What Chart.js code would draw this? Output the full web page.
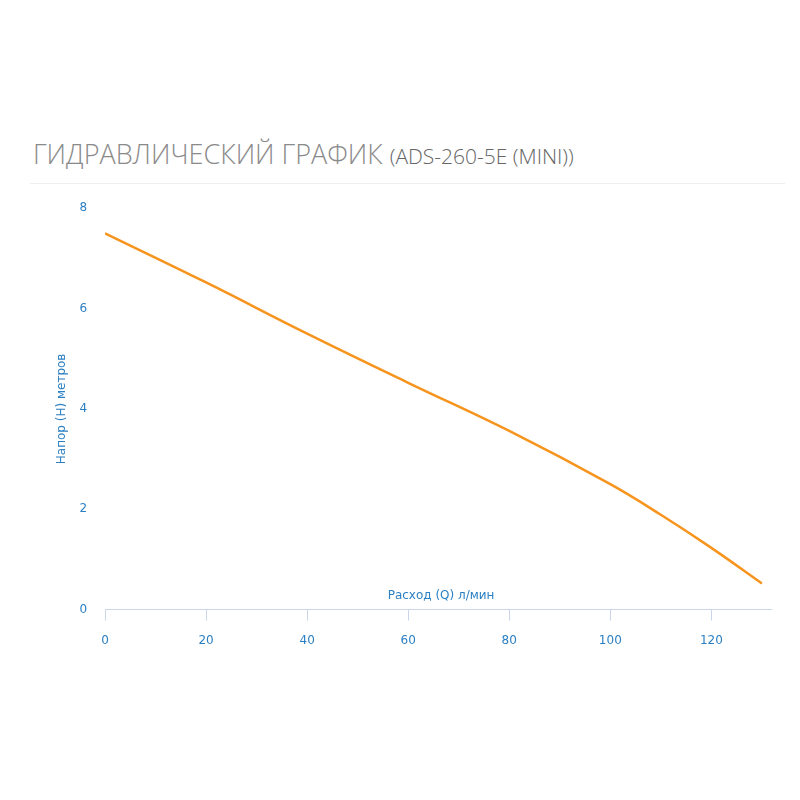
<!DOCTYPE html>
<html>
<head>
<meta charset="utf-8">
<script src="https://cdn.jsdelivr.net/npm/chart.js@4"></script>
<style>
  body { margin: 0; background: #fff; }
  .title {
    position: absolute; left: 33px; top: 135px;
    font-family: "Open Sans", sans-serif; font-weight: 300;
    font-size: 27px; color: #8a8a8a; white-space: nowrap;
  }
  .title small { font-size: 21px; color: #666; }
  .rule { position: absolute; left: 30px; top: 183px; width: 755px; border-top: 1px solid #eee; }
  .wrap { position: absolute; left: 55px; top: 191px; width: 717px; height: 470px; }
</style>
</head>
<body>
<div class="title">ГИДРАВЛИЧЕСКИЙ ГРАФИК <small>(ADS-260-5E (MINI))</small></div>
<div class="rule"></div>
<div class="wrap"><canvas id="chart"></canvas></div>
<script>
// расход, л/мин
var flow = [0, 20, 40, 60, 80, 100, 110, 120, 130];
// напор, м
var head = [7.5, 6.52, 5.5, 4.52, 3.56, 2.5, 1.89, 1.23, 0.52];

var xTitle = 'Расход (Q) л/мин';
var yTitle = 'Напор (Н) метров';
var blue = '#2b7fc3';
var fontFam = '"DejaVu Sans", sans-serif';

var pts = [];
for (var i = 0; i < flow.length; i++) {
  pts.push({ x: flow[i], y: head[i] });
}

// x axis title sits above the axis line, like the original
var xTitlePlugin = {
  id: 'xTitleAbove',
  afterDraw: function (chart) {
    var ctx = chart.ctx;
    var sx = chart.scales.x;
    ctx.save();
    ctx.font = '12px ' + fontFam;
    ctx.fillStyle = blue;
    ctx.textAlign = 'center';
    ctx.textBaseline = 'bottom';
    ctx.fillText(xTitle, sx.getPixelForValue(66.5), sx.top - 8);
    ctx.restore();
  }
};

new Chart(document.getElementById('chart'), {
  type: 'line',
  data: {
    datasets: [{
      label: 'ADS-260-5E (MINI)',
      data: pts,
      borderColor: '#f7941d',
      borderWidth: 2.5,
      pointRadius: 0,
      tension: 0.4,
      fill: false
    }]
  },
  options: {
    responsive: true,
    maintainAspectRatio: false,
    animation: false,
    layout: { padding: { top: 6, right: 0, bottom: 0, left: 0 } },
    plugins: { legend: { display: false }, tooltip: { enabled: false } },
    scales: {
      x: {
        type: 'linear',
        min: 0,
        max: 132,
        border: { display: true, color: '#ccd6eb' },
        grid: { display: true, drawOnChartArea: false, color: '#ccd6eb', tickLength: 11 },
        ticks: { stepSize: 20, includeBounds: false, color: blue, padding: 13,
                 font: { family: fontFam, size: 12 } }
      },
      y: {
        min: 0,
        max: 8,
        border: { display: false },
        grid: { display: false },
        ticks: { stepSize: 2, color: blue, padding: 10,
                 font: { family: fontFam, size: 12 } },
        title: { display: true, text: yTitle, color: blue, padding: 0,
                 font: { family: fontFam, size: 12 } }
      }
    }
  },
  plugins: [xTitlePlugin]
});
</script>
</body>
</html>
